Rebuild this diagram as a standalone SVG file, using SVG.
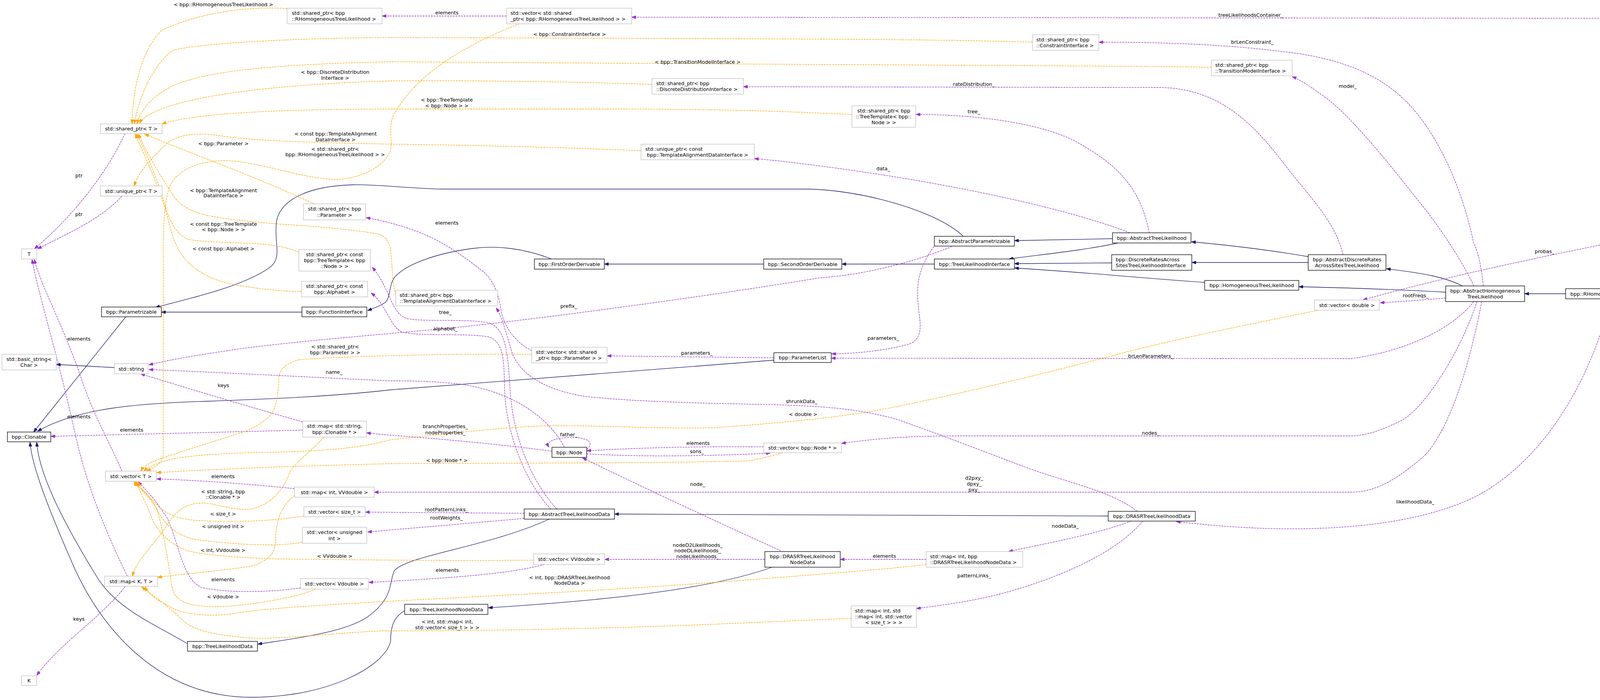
<svg xmlns="http://www.w3.org/2000/svg" width="4537" height="1792" viewBox="0 0 4537 1792">
<style>
text{font-family:"DejaVu Sans","Liberation Sans",sans-serif;font-size:12.8px;fill:#000}
.c{text-anchor:middle}
.n rect{fill:#fff;stroke:#000;stroke-width:1.3}
.s rect{fill:#fff;stroke:#bfbfbf;stroke-width:1.3}
.root rect{fill:#bfbfbf;stroke:#000;stroke-width:1.3}
.inh{fill:none;stroke:#191970;stroke-width:1.3;marker-end:url(#ai)}
.use{fill:none;stroke:#9a32cd;stroke-width:1.3;stroke-dasharray:5,2;marker-end:url(#au)}
.tpl{fill:none;stroke:#ffa500;stroke-width:1.3;stroke-dasharray:5,2;marker-end:url(#at)}
</style>
<defs>
<marker id="ai" markerUnits="userSpaceOnUse" markerWidth="11" markerHeight="8" viewBox="0 0 11 8" refX="11" refY="4" orient="auto"><path d="M0,0 L11,4 L0,8 z" fill="#191970" stroke="#191970"/></marker>
<marker id="au" markerUnits="userSpaceOnUse" markerWidth="11" markerHeight="8" viewBox="0 0 11 8" refX="11" refY="4" orient="auto"><path d="M0,0 L11,4 L0,8 z" fill="#9a32cd" stroke="#9a32cd"/></marker>
<marker id="at" markerUnits="userSpaceOnUse" markerWidth="11" markerHeight="8" viewBox="0 0 11 8" refX="11" refY="4" orient="auto"><path d="M0,0 L11,4 L0,8 z" fill="#ffa500" stroke="#ffa500"/></marker>
</defs>
<rect width="4537" height="1792" fill="#fff"/>
<g id="edges">
<!-- inheritance -->
<path class="inh" d="M4387 589 L4158 739"/>
<path class="inh" d="M4008 752 L3903 752"/>
<path class="inh" d="M3744 732 C3700 710,3650 700,3549 688"/>
<path class="inh" d="M3701 748 C3600 742,3450 737,3325 734"/>
<path class="inh" d="M3349 657 C3250 640,3150 628,3050 619"/>
<path class="inh" d="M3349 672 L3051 672"/>
<path class="inh" d="M3084 723 C2900 710,2750 695,2597 686"/>
<path class="inh" d="M2846 673 L2597 675"/>
<path class="inh" d="M2848 611 L2597 616"/>
<path class="inh" d="M2862 622 C2780 640,2680 650,2583 663"/>
<path class="inh" d="M2392 676 L2155 676"/>
<path class="inh" d="M1955 676 L1547 676"/>
<path class="inh" d="M1412 663 C1340 635,1270 628,1210 636 C1120 648,1040 675,1010 710 C995 730,1000 765,985 775 C970 785,955 790,941 795"/>
<path class="inh" d="M773 799 L413 799"/>
<path class="inh" d="M2466 605 C2400 540,2200 484,2060 484 L1130 484 C1050 482,960 472,905 473 C790 476,720 510,708 565 C700 620,725 660,690 685 C620 735,480 765,398 787"/>
<path class="inh" d="M322 811 L86 1106"/>
<path class="inh" d="M1981 922 L1000 998 C850 1015,700 1021,536 1027 C350 1032,200 1045,96 1104"/>
<path class="inh" d="M1036 1564 C1005 1580,1000 1610,1000 1640 C990 1700,850 1785,643 1785 C400 1785,250 1600,180 1430 C110 1270,80 1180,77 1132"/>
<path class="inh" d="M480 1648 C400 1600,300 1560,250 1480 C170 1350,100 1220,94 1132"/>
<path class="inh" d="M1406 1329 C1250 1400,1050 1420,1010 1460 C995 1490,1010 1530,940 1580 C880 1620,750 1635,660 1649"/>
<path class="inh" d="M1977 1452 C1800 1515,1500 1540,1250 1556"/>
<path class="inh" d="M2837 1321 L1573 1316"/>
<path class="inh" d="M293 941 L144 933"/>
<!-- usage -->
<path class="use" d="M4416 549 C4410 380,4380 60,4144 47 L1617 44"/>
<path class="use" d="M1297 41 L978 41"/>
<path class="use" d="M3797 732 C3790 660,3780 640,3772 620 C3740 470,3680 350,3616 277 C3540 190,3430 150,3300 134 C3130 112,2960 108,2813 108"/>
<path class="use" d="M3773 732 C3740 660,3670 560,3631 514 C3580 450,3480 320,3403 257 C3360 225,3330 205,3308 196"/>
<path class="use" d="M3438 652 C3420 570,3350 500,3300 436 C3220 330,3130 224,2965 224 L1903 222"/>
<path class="use" d="M2942 596 C2920 480,2860 420,2750 360 C2660 315,2500 293,2345 293"/>
<path class="use" d="M2892 596 C2750 540,2450 470,2100 425 C2030 416,1980 410,1931 406"/>
<path class="use" d="M4308 582 C4150 620,3800 680,3489 768"/>
<path class="use" d="M3701 763 C3640 768,3590 772,3533 775"/>
<path class="use" d="M3773 772 C3720 840,3600 900,3458 918 L2128 917"/>
<path class="use" d="M3781 772 C3740 900,3640 1060,3576 1082 C3530 1105,3490 1116,3458 1116 L2450 1116 C2300 1116,2230 1125,2154 1135"/>
<path class="use" d="M3793 772 C3760 950,3700 1130,3631 1180 C3570 1230,3520 1260,3458 1260 L958 1260"/>
<path class="use" d="M4124 765 C4070 980,3950 1180,3780 1270 C3600 1360,3300 1370,3011 1335"/>
<path class="use" d="M2391 631 C2355 680,2348 720,2349 760 C2352 820,2370 860,2330 880 C2260 900,2180 905,2129 906"/>
<path class="use" d="M1981 916 L1554 911"/>
<path class="use" d="M1361 898 C1320 875,1290 840,1282 790 C1276 750,1260 710,1230 690 C1180 650,1120 610,1060 590 C1020 575,980 565,937 557"/>
<path class="use" d="M2437 631 C2330 675,2200 705,2100 711 C1800 760,1456 806,1200 835 C1000 855,765 872,600 895 C500 910,440 920,381 934"/>
<path class="use" d="M1410 1303 C1340 1230,1295 1100,1292 1000 C1290 920,1290 875,1250 862 C1180 852,1080 862,1030 850 C1000 840,990 780,950 750"/>
<path class="use" d="M1425 1303 C1350 1220,1312 1100,1306 1000 C1300 900,1295 840,1250 826 C1180 815,1080 825,1040 815 C1000 800,1000 740,953 684"/>
<path class="use" d="M1445 1145 C1400 1060,1300 1000,1175 983 C1100 975,1050 975,1000 975 C800 966,600 955,381 946"/>
<path class="use" d="M775 1080 C650 1045,500 1000,360 957"/>
<path class="use" d="M775 1101 C500 1108,300 1113,130 1117"/>
<path class="use" d="M1413 1155 C1300 1140,1150 1125,1000 1114 C970 1112,955 1110,938 1108"/>
<path class="use" d="M1502 1150 C1525 1132,1500 1118,1456 1120 C1415 1122,1398 1132,1405 1145"/>
<path class="use" d="M1955 1144 C1850 1143,1700 1143,1502 1154"/>
<path class="use" d="M1502 1162 C1650 1170,1800 1168,1972 1160"/>
<path class="use" d="M1342 1314 L935 1311"/>
<path class="use" d="M1342 1327 C1200 1340,1050 1352,941 1362"/>
<path class="use" d="M754 1251 C650 1240,520 1230,401 1226"/>
<path class="use" d="M1394 1445 C1300 1470,1150 1480,944 1491"/>
<path class="use" d="M769 1505 C700 1515,600 1520,520 1505 C470 1490,460 1400,430 1330 C400 1280,370 1250,353 1233"/>
<path class="use" d="M1958 1432 L1548 1432"/>
<path class="use" d="M2371 1432 L2151 1432"/>
<path class="use" d="M2896 1334 C2800 1370,2680 1390,2582 1412"/>
<path class="use" d="M2925 1335 C2870 1400,2750 1470,2559 1521 C2460 1545,2400 1550,2346 1558"/>
<path class="use" d="M2911 1309 C2850 1260,2750 1240,2636 1200 C2530 1160,2400 1110,2300 1075 C2200 1045,2100 1040,1982 1036 C1800 1032,1631 1029,1500 1015 C1400 1000,1330 960,1310 900 C1295 850,1285 810,1270 788"/>
<path class="use" d="M1999 1410 C1800 1320,1620 1235,1491 1172"/>
<path class="use" d="M320 342 C270 450,180 560,88 637"/>
<path class="use" d="M312 502 C260 560,170 600,96 637"/>
<path class="use" d="M312 1206 C280 1130,240 1066,205 960 C160 830,100 720,88 664"/>
<path class="use" d="M326 1475 C270 1360,220 1240,190 1100 C150 920,95 740,82 664"/>
<path class="use" d="M321 1501 C260 1580,150 1650,94 1729"/>
<!-- template instances -->
<path class="tpl" d="M735 22 C640 15,510 32,415 77 C360 130,340 230,338 317"/>
<path class="tpl" d="M2643 108 C2400 100,2100 100,1000 96 C700 98,480 115,440 130 C390 170,355 250,344 317"/>
<path class="tpl" d="M3101 172 C2700 167,2100 166,1000 158 C700 165,540 180,446 218 C390 245,360 280,351 317"/>
<path class="tpl" d="M1669 216 C1500 210,1200 205,1000 207 C750 215,560 235,446 268 C390 285,365 300,357 316"/>
<path class="tpl" d="M2181 293 C2000 285,1877 280,1600 279 L1000 279 C700 280,500 290,415 317"/>
<path class="tpl" d="M1641 386 C1400 375,1100 370,1000 369 C850 366,650 362,560 347 C500 338,460 345,430 365 C380 410,350 450,344 476"/>
<path class="tpl" d="M804 522 C650 450,480 390,370 343"/>
<path class="tpl" d="M1330 61 C1200 110,1060 190,1005 300 C995 330,1005 360,1000 383 C990 420,930 458,861 459 C780 460,660 412,574 411 C500 412,450 440,434 478 C420 520,418 580,418 650 L418 1160 C418 1185,395 1198,375 1206"/>
<path class="tpl" d="M1361 907 C1200 905,900 910,765 921 C730 930,714 950,714 964 C712 1000,712 1040,689 1067 C660 1090,640 1100,625 1105 C550 1130,480 1150,446 1163 C400 1175,370 1190,360 1206"/>
<path class="tpl" d="M3375 794 C3200 830,3000 870,2865 906 C2700 950,2483 1002,2300 1040 C2200 1060,2100 1075,1842 1094 C1700 1100,1561 1088,1400 1090 C1280 1094,1150 1110,1000 1126 C940 1140,893 1155,638 1159 C540 1162,480 1168,446 1174 C410 1182,380 1195,368 1206"/>
<path class="tpl" d="M2003 1159 C1960 1172,1930 1178,1912 1180 C1700 1185,1491 1185,1000 1187 C800 1192,600 1198,401 1210"/>
<path class="tpl" d="M829 1120 C790 1160,750 1190,741 1210 C725 1260,680 1305,625 1304 C580 1303,540 1285,509 1288 C470 1292,450 1310,430 1340 C400 1390,350 1430,339 1475"/>
<path class="tpl" d="M754 1268 C715 1300,706 1340,705 1389 C704 1420,680 1440,640 1450 C560 1462,460 1470,403 1478"/>
<path class="tpl" d="M778 1321 C700 1334,600 1338,500 1332 C450 1328,420 1313,400 1290 C375 1265,360 1250,353 1233"/>
<path class="tpl" d="M774 1388 C720 1400,600 1395,500 1381 C450 1370,420 1343,400 1300 C380 1270,355 1250,349 1233"/>
<path class="tpl" d="M1366 1434 C1150 1436,900 1433,714 1431 C620 1428,536 1423,480 1410 C440 1395,410 1370,390 1330 C375 1290,355 1250,346 1233"/>
<path class="tpl" d="M808 1508 C760 1530,620 1555,536 1553 C480 1550,446 1540,440 1500 C430 1440,420 1360,400 1300 C380 1260,350 1245,343 1233"/>
<path class="tpl" d="M2371 1445 C2300 1455,2100 1470,1829 1491 C1500 1515,1200 1528,982 1540 C800 1550,650 1560,590 1572 C530 1580,470 1570,446 1559 C410 1540,380 1525,372 1502"/>
<path class="tpl" d="M2179 1583 C2000 1590,1800 1600,1663 1604 C1400 1612,1200 1615,982 1615 C850 1620,700 1640,625 1632 C550 1625,500 1615,470 1590 C440 1560,400 1530,362 1502"/>
<path class="tpl" d="M1013 755 C1003 720,1005 680,1000 640 C995 610,980 600,957 597 C900 588,820 580,733 575 C640 568,570 560,529 551 C480 540,455 520,440 495 C410 450,375 390,354 343"/>
<path class="tpl" d="M765 645 C740 635,700 625,638 623 C560 620,500 618,480 612 C450 600,430 560,415 500 C395 440,370 380,349 343"/>
<path class="tpl" d="M772 746 C740 746,700 745,606 730 C550 720,510 700,480 670 C450 640,440 600,430 560 C410 480,370 400,346 343"/>
<!-- edge labels -->
<g class="c">
<text x="572" y="16">&lt; bpp::RHomogeneousTreeLikelihood &gt;</text>
<text x="1144" y="37">elements</text>
<text x="3202" y="42.5">treeLikelihoodsContainer_</text>
<text x="1458" y="91.5">&lt; bpp::ConstraintInterface &gt;</text>
<text x="3206" y="112">brLenConstraint_</text>
<text x="1786" y="162.5">&lt; bpp::TransitionModelInterface &gt;</text>
<text x="858" y="188.5">&lt; bpp::DiscreteDistribution</text>
<text x="858" y="203.5">Interface &gt;</text>
<text x="2493" y="220">rateDistribution_</text>
<text x="3450" y="225">model_</text>
<text x="1144" y="260">&lt; bpp::TreeTemplate</text>
<text x="1144" y="275">&lt; bpp::Node &gt; &gt;</text>
<text x="2493" y="289.5">tree_</text>
<text x="859" y="347">&lt; const bpp::TemplateAlignment</text>
<text x="859" y="361.5">DataInterface &gt;</text>
<text x="572" y="371.5">&lt; bpp::Parameter &gt;</text>
<text x="858" y="385.5">&lt; std::shared_ptr&lt;</text>
<text x="858" y="399.5">bpp::RHomogeneousTreeLikelihood &gt; &gt;</text>
<text x="2261" y="435.5">data_</text>
<text x="202" y="453.5">ptr</text>
<text x="572" y="491.5">&lt; bpp::TemplateAlignment</text>
<text x="572" y="505">DataInterface &gt;</text>
<text x="202" y="552.5">ptr</text>
<text x="1144" y="574.5">elements</text>
<text x="572" y="577.5">&lt; const bpp::TreeTemplate</text>
<text x="572" y="591.5">&lt; bpp::Node &gt; &gt;</text>
<text x="572" y="640.5">&lt; const bpp::Alphabet &gt;</text>
<text x="3954" y="647.5">probas_</text>
<text x="3624" y="760.5">rootFreqs_</text>
<text x="1456" y="787.5">prefix_</text>
<text x="1140" y="803.5">tree_</text>
<text x="1140" y="845.5">alphabet_</text>
<text x="2261" y="869.5">parameters_</text>
<text x="202" y="871.5">elements</text>
<text x="858" y="891.5">&lt; std::shared_ptr&lt;</text>
<text x="858" y="906.5">bpp::Parameter &gt; &gt;</text>
<text x="1784" y="907.5">parameters_</text>
<text x="2946" y="915.5">brLenParameters_</text>
<text x="855" y="956.5">name_</text>
<text x="572" y="991">keys</text>
<text x="2052" y="1032">shrunkData_</text>
<text x="2056" y="1064.5">&lt; double &gt;</text>
<text x="202" y="1071">elements</text>
<text x="1140" y="1095.5">branchProperties_</text>
<text x="1140" y="1111.5">nodeProperties_</text>
<text x="337" y="1105">elements</text>
<text x="2946" y="1112.5">nodes_</text>
<text x="1456" y="1116.5">father_</text>
<text x="1787" y="1139">elements</text>
<text x="1784" y="1160">sons_</text>
<text x="1144" y="1183">&lt; bpp::Node * &gt;</text>
<text x="571" y="1224">elements</text>
<text x="2494" y="1228">d2pxy_</text>
<text x="2494" y="1242.5">dpxy_</text>
<text x="2494" y="1257.5">pxy_</text>
<text x="1786" y="1243.5">node_</text>
<text x="571" y="1263">&lt; std::string, bpp</text>
<text x="571" y="1277">::Clonable * &gt;</text>
<text x="3623" y="1288.5">likelihoodData_</text>
<text x="1143" y="1308.5">rootPatternLinks_</text>
<text x="571" y="1320">&lt; size_t &gt;</text>
<text x="1143" y="1329.5">rootWeights_</text>
<text x="2727" y="1351">nodeData_</text>
<text x="571" y="1351.5">&lt; unsigned int &gt;</text>
<text x="1786" y="1399.5">nodeD2Likelihoods_</text>
<text x="1786" y="1413.5">nodeDLikelihoods_</text>
<text x="1786" y="1428.5">nodeLikelihoods_</text>
<text x="571" y="1412.5">&lt; int, VVdouble &gt;</text>
<text x="857" y="1427.5">&lt; VVdouble &gt;</text>
<text x="2264" y="1428">elements</text>
<text x="1145" y="1463.5">elements</text>
<text x="2494" y="1477.5">patternLinks_</text>
<text x="1458" y="1483">&lt; int, bpp::DRASRTreeLikelihood</text>
<text x="1458" y="1497">NodeData &gt;</text>
<text x="571" y="1488">elements</text>
<text x="571" y="1532">&lt; Vdouble &gt;</text>
<text x="202" y="1588.5">keys</text>
<text x="1145" y="1596">&lt; int, std::map&lt; int,</text>
<text x="1145" y="1610.5">std::vector&lt; size_t &gt; &gt; &gt;</text>
</g>
</g>
<g id="n-RHomogeneousMixedTreeLikelihood" class="root"><rect x="4308" y="549" width="224" height="40"/><text class="c" x="4420" y="565.9">bpp::RHomogeneousMixedTree</text><text class="c" x="4420" y="581.1">Likelihood</text></g>
<g id="n-RHomogeneousTreeLikelihood" class="n"><rect x="4008" y="739" width="250" height="26"/><text class="c" x="4133" y="756.5">bpp::RHomogeneousTreeLikelihood</text></g>
<g id="n-AbstractHomogeneousTreeLikelihood" class="n"><rect x="3701" y="732" width="202" height="40"/><text class="c" x="3802" y="748.9">bpp::AbstractHomogeneous</text><text class="c" x="3802" y="764.1">TreeLikelihood</text></g>
<g id="n-AbstractDiscreteRatesAcrossSitesTreeLikelihood" class="n"><rect x="3349" y="652" width="199" height="40"/><text class="c" x="3448.5" y="668.9">bpp::AbstractDiscreteRates</text><text class="c" x="3448.5" y="684.1">AcrossSitesTreeLikelihood</text></g>
<g id="n-HomogeneousTreeLikelihood" class="n"><rect x="3084" y="718" width="241" height="25"/><text class="c" x="3204.5" y="735">bpp::HomogeneousTreeLikelihood</text></g>
<g id="n-AbstractTreeLikelihood" class="n"><rect x="2848" y="596" width="201" height="26"/><text class="c" x="2948.5" y="613.5">bpp::AbstractTreeLikelihood</text></g>
<g id="n-DiscreteRatesAcrossSitesTreeLikelihoodInterface" class="n"><rect x="2846" y="652" width="205" height="40"/><text x="2856" y="668.9">bpp::DiscreteRatesAcross</text><text x="2856" y="684.1">SitesTreeLikelihoodInterface</text></g>
<g id="n-AbstractParametrizable" class="n"><rect x="2392" y="605" width="205" height="25"/><text class="c" x="2494.5" y="622">bpp::AbstractParametrizable</text></g>
<g id="n-TreeLikelihoodInterface" class="n"><rect x="2392" y="663" width="205" height="26"/><text class="c" x="2494.5" y="680.5">bpp::TreeLikelihoodInterface</text></g>
<g id="n-SecondOrderDerivable" class="n"><rect x="1955" y="663" width="200" height="26"/><text class="c" x="2055" y="680.5">bpp::SecondOrderDerivable</text></g>
<g id="n-FirstOrderDerivable" class="n"><rect x="1368" y="663" width="179" height="26"/><text class="c" x="1457.5" y="680.5">bpp::FirstOrderDerivable</text></g>
<g id="n-FunctionInterface" class="n"><rect x="773" y="786" width="166" height="25"/><text class="c" x="856" y="803">bpp::FunctionInterface</text></g>
<g id="n-Parametrizable" class="n"><rect x="260" y="786" width="153" height="25"/><text class="c" x="336.5" y="803">bpp::Parametrizable</text></g>
<g id="n-Clonable" class="n"><rect x="19" y="1106" width="111" height="25"/><text class="c" x="74.5" y="1123">bpp::Clonable</text></g>
<g id="n-ParameterList" class="n"><rect x="1981" y="903" width="147" height="25"/><text class="c" x="2054.5" y="920">bpp::ParameterList</text></g>
<g id="n-string" class="s"><rect x="293" y="931" width="86" height="26"/><text class="c" x="336" y="948.5">std::string</text></g>
<g id="n-basic_string" class="s"><rect x="5" y="907" width="139" height="40"/><text class="c" x="74.5" y="923.9">std::basic_string&lt;</text><text class="c" x="74.5" y="939.1">Char &gt;</text></g>
<g id="n-vector_shared_ptr_Parameter" class="s"><rect x="1361" y="889" width="193" height="40"/><text x="1372" y="905.9">std::vector&lt; std::shared</text><text x="1372" y="921.1">_ptr&lt; bpp::Parameter &gt; &gt;</text></g>
<g id="n-shared_ptr_Parameter" class="s"><rect x="777" y="522" width="159" height="41"/><text class="c" x="856.5" y="539.4">std::shared_ptr&lt; bpp</text><text class="c" x="856.5" y="554.6">::Parameter &gt;</text></g>
<g id="n-shared_ptr_T" class="s"><rect x="257" y="317" width="158" height="25"/><text class="c" x="336" y="334">std::shared_ptr&lt; T &gt;</text></g>
<g id="n-unique_ptr_T" class="s"><rect x="257" y="476" width="158" height="26"/><text class="c" x="336" y="493.5">std::unique_ptr&lt; T &gt;</text></g>
<g id="n-T" class="s"><rect x="55" y="637" width="39" height="26"/><text class="c" x="74.5" y="654.5">T</text></g>
<g id="n-shared_ptr_RHomogeneousTreeLikelihood" class="s"><rect x="735" y="21" width="243" height="40"/><text x="747" y="37.9">std::shared_ptr&lt; bpp</text><text x="747" y="53.1">::RHomogeneousTreeLikelihood &gt;</text></g>
<g id="n-vector_shared_ptr_RHomogeneousTreeLikelihood" class="s"><rect x="1297" y="21" width="320" height="40"/><text x="1307" y="37.9">std::vector&lt; std::shared</text><text x="1307" y="53.1">_ptr&lt; bpp::RHomogeneousTreeLikelihood &gt; &gt;</text></g>
<g id="n-shared_ptr_ConstraintInterface" class="s"><rect x="2643" y="89" width="170" height="40"/><text x="2653" y="105.9">std::shared_ptr&lt; bpp</text><text x="2653" y="121.1">::ConstraintInterface &gt;</text></g>
<g id="n-shared_ptr_TransitionModelInterface" class="s"><rect x="3101" y="154" width="207" height="40"/><text x="3111" y="170.9">std::shared_ptr&lt; bpp</text><text x="3111" y="186.1">::TransitionModelInterface &gt;</text></g>
<g id="n-shared_ptr_DiscreteDistributionInterface" class="s"><rect x="1669" y="201" width="234" height="40"/><text x="1680" y="217.9">std::shared_ptr&lt; bpp</text><text x="1680" y="233.1">::DiscreteDistributionInterface &gt;</text></g>
<g id="n-shared_ptr_TreeTemplate_Node" class="s"><rect x="2181" y="271" width="163" height="55"/><text class="c" x="2262.5" y="287.8">std::shared_ptr&lt; bpp</text><text class="c" x="2262.5" y="303">::TreeTemplate&lt; bpp::</text><text class="c" x="2262.5" y="318.2">Node &gt; &gt;</text></g>
<g id="n-unique_ptr_const_TemplateAlignmentDataInterface" class="s"><rect x="1641" y="369" width="290" height="40"/><text x="1652" y="385.9">std::unique_ptr&lt; const</text><text x="1656" y="401.1">bpp::TemplateAlignmentDataInterface &gt;</text></g>
<g id="n-shared_ptr_TemplateAlignmentDataInterface" class="s"><rect x="1013" y="743" width="261" height="40"/><text x="1023" y="759.9">std::shared_ptr&lt; bpp</text><text x="1023" y="775.1">::TemplateAlignmentDataInterface &gt;</text></g>
<g id="n-shared_ptr_const_TreeTemplate_Node" class="s"><rect x="765" y="639" width="183" height="55"/><text class="c" x="856.5" y="655.8">std::shared_ptr&lt; const</text><text class="c" x="856.5" y="671">bpp::TreeTemplate&lt; bpp</text><text class="c" x="856.5" y="686.2">::Node &gt; &gt;</text></g>
<g id="n-shared_ptr_const_Alphabet" class="s"><rect x="772" y="720" width="169" height="40"/><text class="c" x="856.5" y="736.9">std::shared_ptr&lt; const</text><text class="c" x="856.5" y="752.1">bpp::Alphabet &gt;</text></g>
<g id="n-map_string_Clonable" class="s"><rect x="775" y="1078" width="163" height="41"/><text class="c" x="856.5" y="1095.4">std::map&lt; std::string,</text><text class="c" x="856.5" y="1110.6">bpp::Clonable * &gt;</text></g>
<g id="n-Node" class="n"><rect x="1413" y="1145" width="89" height="26"/><text class="c" x="1457.5" y="1162.5">bpp::Node</text></g>
<g id="n-vector_Node_ptr" class="s"><rect x="1955" y="1134" width="199" height="25"/><text class="c" x="2054.5" y="1151">std::vector&lt; bpp::Node * &gt;</text></g>
<g id="n-vector_double" class="s"><rect x="3365" y="768" width="166" height="26"/><text class="c" x="3448" y="785.5">std::vector&lt; double &gt;</text></g>
<g id="n-vector_T" class="s"><rect x="270" y="1206" width="130" height="26"/><text class="c" x="335" y="1223.5">std::vector&lt; T &gt;</text></g>
<g id="n-map_int_VVdouble" class="s"><rect x="754" y="1247" width="204" height="26"/><text class="c" x="856" y="1264.5">std::map&lt; int, VVdouble &gt;</text></g>
<g id="n-vector_size_t" class="s"><rect x="778" y="1297" width="157" height="26"/><text class="c" x="856.5" y="1314.5">std::vector&lt; size_t &gt;</text></g>
<g id="n-vector_unsigned_int" class="s"><rect x="774" y="1350" width="165" height="41"/><text class="c" x="856.5" y="1367.4">std::vector&lt; unsigned</text><text class="c" x="856.5" y="1382.6">int &gt;</text></g>
<g id="n-map_K_T" class="s"><rect x="268" y="1475" width="135" height="26"/><text class="c" x="335.5" y="1492.5">std::map&lt; K, T &gt;</text></g>
<g id="n-vector_Vdouble" class="s"><rect x="769" y="1481" width="174" height="27"/><text class="c" x="856" y="1499">std::vector&lt; Vdouble &gt;</text></g>
<g id="n-K" class="s"><rect x="55" y="1730" width="39" height="25"/><text class="c" x="74.5" y="1747">K</text></g>
<g id="n-TreeLikelihoodData" class="n"><rect x="480" y="1642" width="179" height="25"/><text class="c" x="569.5" y="1659">bpp::TreeLikelihoodData</text></g>
<g id="n-TreeLikelihoodNodeData" class="n"><rect x="1036" y="1547" width="213" height="26"/><text class="c" x="1142.5" y="1564.5">bpp::TreeLikelihoodNodeData</text></g>
<g id="n-AbstractTreeLikelihoodData" class="n"><rect x="1342" y="1303" width="231" height="26"/><text class="c" x="1457.5" y="1320.5">bpp::AbstractTreeLikelihoodData</text></g>
<g id="n-vector_VVdouble" class="s"><rect x="1366" y="1418" width="182" height="27"/><text class="c" x="1457" y="1436">std::vector&lt; VVdouble &gt;</text></g>
<g id="n-DRASRTreeLikelihoodNodeData" class="n"><rect x="1958" y="1412" width="193" height="40"/><text class="c" x="2054.5" y="1428.9">bpp::DRASRTreeLikelihood</text><text class="c" x="2054.5" y="1444.1">NodeData</text></g>
<g id="n-map_int_DRASRTreeLikelihoodNodeData" class="s"><rect x="2371" y="1412" width="247" height="40"/><text x="2381" y="1428.9">std::map&lt; int, bpp</text><text x="2381" y="1444.1">::DRASRTreeLikelihoodNodeData &gt;</text></g>
<g id="n-map_int_map_int_vector_size_t" class="s"><rect x="2179" y="1551" width="167" height="55"/><text x="2189" y="1567.8">std::map&lt; int, std</text><text x="2189" y="1583">::map&lt; int, std::vector</text><text class="c" x="2262.5" y="1598.2">&lt; size_t &gt; &gt; &gt;</text></g>
<g id="n-DRASRTreeLikelihoodData" class="n"><rect x="2837" y="1309" width="223" height="25"/><text class="c" x="2948.5" y="1326">bpp::DRASRTreeLikelihoodData</text></g>
</svg>
